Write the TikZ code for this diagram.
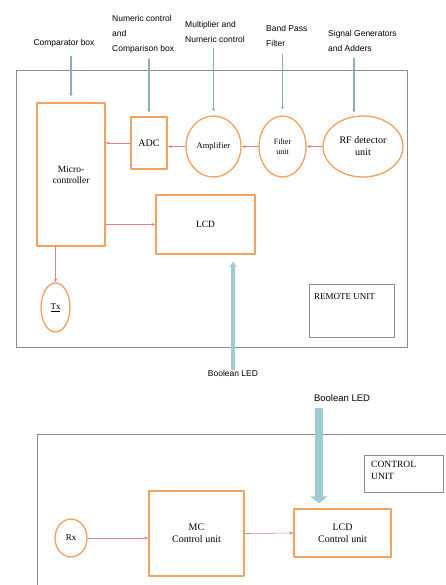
\documentclass[tikz,border=0pt]{standalone}
\usepackage{fontspec}
\setmainfont{Liberation Serif}
\newfontfamily\labelfont{Liberation Sans}
\usetikzlibrary{arrows.meta,shapes.geometric}
\definecolor{block}{HTML}{F4A15A}
\definecolor{unitgray}{HTML}{8C8C8C}
\definecolor{signal}{HTML}{D98585}
\definecolor{feedblue}{HTML}{8AAEB6}
\definecolor{ledfill}{HTML}{9FCBD0}

\begin{document}
\begin{tikzpicture}[x=1pt,y=1pt,line cap=round,line join=round,
  blockbox/.style={draw=block,line width=1.3pt,fill=white,rectangle,inner sep=1pt,align=center},
  blockoval/.style={blockbox,ellipse},
  unitbox/.style={draw=unitgray,line width=0.9pt,rectangle},
  tag/.style={font=\labelfont\fontsize{8.5}{15}\selectfont,inner sep=0pt,align=left},
  sig/.style={draw=signal,line width=0.6pt,-{Stealth[length=4pt,width=3pt]}},
  feedline/.style={draw=feedblue,line width=1.1pt,-{Stealth[length=3pt,width=3.5pt]}},
  ledsmall/.style={draw=ledfill,line width=3.5pt,line cap=butt,-{Triangle[width=7pt,length=5pt]}},
  ledbig/.style={draw=ledfill,line width=7.5pt,line cap=butt,-{Triangle[width=17pt,length=7pt]}}]
  \path[use as bounding box] (0,0) rectangle (446,-585);

  % Remote unit enclosure.
  \draw[unitgray,line width=0.9pt] (16,-70) rectangle (407,-347);

  % Remote unit blocks.
  \node[blockbox,minimum width=68pt,minimum height=143pt,font=\fontsize{9.5}{11}\selectfont] (micro) at (71,-174.5) {Micro-\\controller};
  \node[blockbox,minimum width=36pt,minimum height=52pt,font=\fontsize{10}{12}\selectfont] (adc) at (149,-143) {ADC};
  \node[blockoval,minimum width=55pt,minimum height=61pt,font=\fontsize{8.5}{10}\selectfont] (amp) at (213.5,-146.5) {Amplifier};
  \node[blockoval,minimum width=47pt,minimum height=61pt,font=\fontsize{8}{10}\selectfont] (filt) at (282.5,-146.5) {Filter\\unit};
  \node[blockoval,minimum width=80pt,minimum height=61pt,font=\fontsize{10}{12}\selectfont] (rfdet) at (363,-146.5) {RF detector\\unit};
  \node[blockbox,minimum width=99pt,minimum height=59pt,font=\fontsize{9.5}{11}\selectfont] (lcd) at (205.5,-224.5) {LCD};
  \node[blockoval,minimum width=29pt,minimum height=49pt,font=\fontsize{9}{11}\selectfont] (tx) at (55.5,-307.5) {\underline{Tx}};
  \node[unitbox,minimum width=85pt,minimum height=53pt] (remote) at (351.5,-310.5) {};
  \node[anchor=north west,inner sep=0pt,font=\fontsize{9}{11}\selectfont] (remotetxt) at (314,-293) {REMOTE UNIT};

  % Function labels above the remote unit.
  \node[tag] (cmplbl) at (64,-43) {Comparator box};
  \node[tag,anchor=west] (numlbl) at (112,-34) {Numeric control\\and\\Comparison box};
  \node[tag,anchor=west] (multlbl) at (185,-31.5) {Multiplier and\\Numeric control};
  \node[tag,anchor=west] (bandlbl) at (266,-35.5) {Band Pass\\Filter};
  \node[tag,anchor=west] (siglbl) at (328,-40.5) {Signal Generators\\and Adders};
  \node[tag] (boolremote) at (233,-373) {Boolean LED};

  \draw[feedline,shorten <=9pt,shorten >=6pt] (cmplbl.south -| micro.north) -- (micro.north);
  \draw[feedline,shorten <=6pt,shorten >=4pt] (numlbl.south -| adc.north) -- (adc.north);
  \draw[feedline,shorten <=6pt,shorten >=4pt] (multlbl.south -| amp.north) -- (amp.north);
  \draw[feedline,shorten <=8pt,shorten >=6pt] (bandlbl.south -| filt.north) -- (filt.north);
  \draw[feedline,shorten <=7pt,shorten >=3pt] (siglbl.south -| rfdet.north) ++(-9,0) -- ([xshift=-9pt]rfdet.north);

  % Signal chain.
  \draw[sig] (rfdet.west) -- (filt.east);
  \draw[sig] (filt.west) -- (amp.east);
  \draw[sig] (amp.west) -- (amp.west -| adc.east);
  \draw[sig] (adc.west) -- (adc.west -| micro.east);
  \draw[sig] (lcd.west -| micro.east) -- (lcd.west);
  \draw[sig] (micro.south -| tx.north) -- (tx.north);
  \draw[ledsmall,shorten >=7pt] (boolremote.north) -- (boolremote.north |- lcd.south);

  % Control unit enclosure, running off the page.
  \draw[unitgray,line width=0.9pt] (37,-585) -- (37,-434) -- (446,-434);
  \node[unitbox,minimum width=79pt,minimum height=37pt] (ctrlunit) at (403.5,-473.5) {};
  \node[anchor=north west,inner sep=0pt,align=left,font=\fontsize{9.5}{12.5}\selectfont] (ctrltxt) at (371,-461) {CONTROL\\UNIT};

  \node[blockoval,minimum width=32pt,minimum height=38pt,font=\fontsize{9}{11}\selectfont] (rx) at (71,-538) {Rx};
  \node[blockbox,minimum width=95pt,minimum height=85pt,font=\fontsize{10}{12}\selectfont] (mc) at (196.5,-533.5) {MC\\Control unit};
  \node[blockbox,minimum width=97pt,minimum height=48pt,font=\fontsize{10}{12}\selectfont] (lcdc) at (342.5,-533) {LCD\\Control unit};
  \node[tag,font=\labelfont\fontsize{9.5}{11}\selectfont] (boolctrl) at (342,-398) {Boolean LED};
  \coordinate (ledtop) at ([xshift=-23pt]boolctrl.south);

  \draw[sig] (rx.east) -- (rx.east -| mc.west);
  \draw[sig] (mc.east) -- (lcdc.west);
  \draw[ledbig,shorten <=6pt,shorten >=5pt] (ledtop) -- (ledtop |- lcdc.north);
\end{tikzpicture}
\end{document}
